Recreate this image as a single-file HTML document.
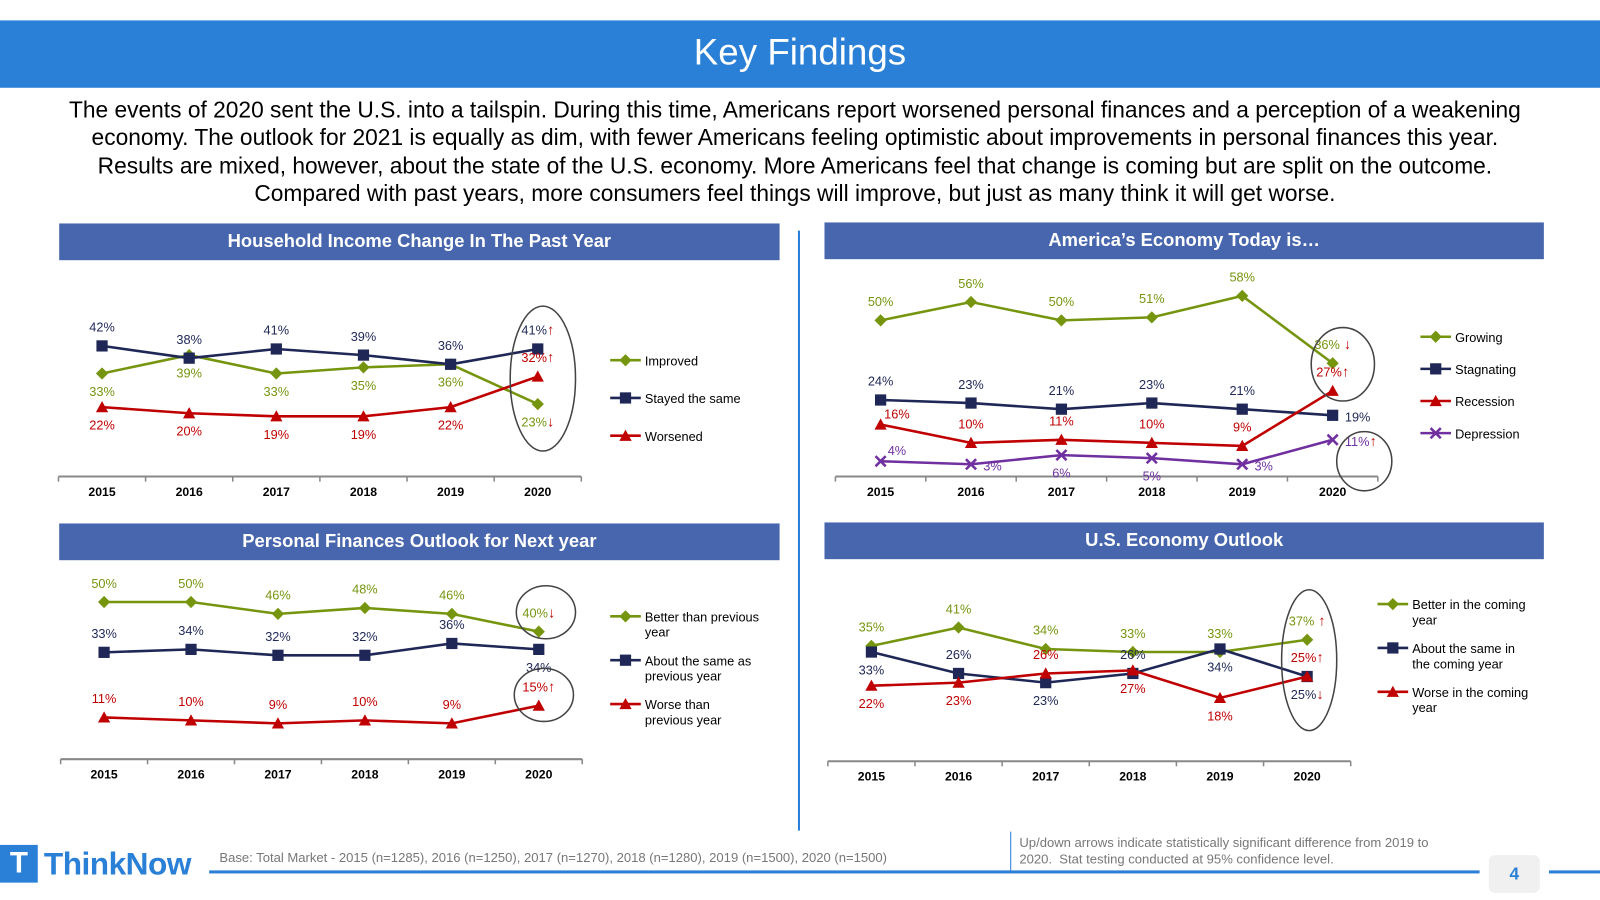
<!DOCTYPE html>
<html><head><meta charset="utf-8">
<style>
body{margin:0;width:1600px;height:900px;background:#fff;font-family:"Liberation Sans",sans-serif;position:relative;overflow:hidden}
#wrap{position:absolute;left:0;top:0;width:1568px;height:882px;transform:scale(1.0204);transform-origin:0 0}
.title{position:absolute;left:0;top:20px;width:1568px;height:66px;background:#2a7fd6;color:#fff;font-size:36px;text-align:center;line-height:62px}
.intro{position:absolute;left:57px;top:94px;width:1444px;text-align:center;font-size:22.3px;line-height:27.3px;color:#000}
.hdr{position:absolute;height:36px;background:#4766ad;color:#fff;font-weight:bold;font-size:18px;text-align:center;line-height:35px}
svg{position:absolute;left:0;top:0}
.foot{position:absolute;font-size:12.8px;color:#777}
</style></head><body>
<div id="wrap">
<div class="title">Key Findings</div>
<div class="intro">The events of 2020 sent the U.S. into a tailspin. During this time, Americans report worsened personal finances and a perception of a weakening economy. The outlook for 2021 is equally as dim, with fewer Americans feeling optimistic about improvements in personal finances this year. Results are mixed, however, about the state of the U.S. economy. More Americans feel that change is coming but are split on the outcome. Compared with past years, more consumers feel things will improve, but just as many think it will get worse.</div>
<div class="hdr" style="left:58px;top:219px;width:706px">Household Income Change In The Past Year</div>
<div class="hdr" style="left:808px;top:218px;width:705px">America’s Economy Today is…</div>
<div class="hdr" style="left:58px;top:513px;width:706px">Personal Finances Outlook for Next year</div>
<div class="hdr" style="left:808px;top:512px;width:705px">U.S. Economy Outlook</div>
<div style="position:absolute;left:782px;top:226px;width:2px;height:588px;background:#2a7fd6"></div>
<div style="position:absolute;left:990px;top:815px;width:1px;height:40px;background:#2a7fd6"></div>
<div style="position:absolute;left:205px;top:853px;width:1245px;height:3px;background:#2a7fd6"></div>
<div style="position:absolute;left:1518px;top:853px;width:50px;height:3px;background:#2a7fd6"></div>
<div style="position:absolute;left:1459px;top:838px;width:50px;height:37px;background:#f0f0f0;border-radius:6px;color:#2a7fd6;font-size:17px;font-weight:bold;text-align:center;line-height:37px">4</div>
<div style="position:absolute;left:0;top:828px;width:37px;height:37px;background:#2a7fd6;color:#fff;font-weight:bold;font-size:29px;text-align:center;line-height:37px">T</div>
<div style="position:absolute;left:43px;top:828px;color:#2a7fd6;font-weight:bold;font-size:31px;line-height:37px;letter-spacing:-0.5px">ThinkNow</div>
<div class="foot" style="left:215px;top:833px">Base: Total Market - 2015 (n=1285), 2016 (n=1250), 2017 (n=1270), 2018 (n=1280), 2019 (n=1500), 2020 (n=1500)</div>
<div class="foot" style="left:999px;top:818px;width:425px;line-height:16px">Up/down arrows indicate statistically significant difference from 2019 to 2020.&nbsp; Stat testing conducted at 95% confidence level.</div>
<svg id="charts" width="1568" height="882"></svg>
</div>
<script>
const years=["2015","2016","2017","2018","2019","2020"];
// Chart 1: Household income change
const c1Improved=[33,39,33,35,36,23];
const c1Same=[42,38,41,39,36,41];
const c1Worse=[22,20,19,19,22,32];
// Chart 2: Economy today
const c2Growing=[50,56,50,51,58,36];
const c2Stagnating=[24,23,21,23,21,19];
const c2Recession=[16,10,11,10,9,27];
const c2Depression=[4,3,6,5,3,11];
// Chart 3: Personal finances outlook
const c3Better=[50,50,46,48,46,40];
const c3Same=[33,34,32,32,36,34];
const c3Worse=[11,10,9,10,9,15];
// Chart 4: US economy outlook
const c4Better=[35,41,34,33,33,37];
const c4Same=[33,26,23,26,34,25];
const c4Worse=[22,23,26,27,18,25];

const GREEN="#76950f",NAVY="#1f2757",RED="#c00000",PURPLE="#7030a0";
const NS="http://www.w3.org/2000/svg";
const svg=document.getElementById('charts');
function mk(tag,attrs,parent){const e=document.createElementNS(NS,tag);for(const k in attrs)e.setAttribute(k,attrs[k]);(parent||svg).appendChild(e);return e;}
function marker(g,type,x,y,c){
  let m;
  if(type==='d')m=mk('polygon',{points:`${x},${y-6} ${x+6},${y} ${x},${y+6} ${x-6},${y}`,fill:c},g);
  else if(type==='s')m=mk('rect',{x:x-5.5,y:y-5.5,width:11,height:11,fill:c},g);
  else if(type==='t')m=mk('polygon',{points:`${x},${y-6} ${x+6},${y+5} ${x-6},${y+5}`,fill:c},g);
  else {m=mk('path',{d:`M${x-5},${y-5}L${x+5},${y+5}M${x+5},${y-5}L${x-5},${y+5}`,stroke:c,'stroke-width':2.5},g);}
  
  
}
function chart(cfg){
  const g=mk('g',{});
  
  
  const xs=i=>cfg.x0+i*cfg.step;
  const ys=v=>cfg.yZero-v*cfg.k;
  const ax=mk('line',{x1:cfg.x0-cfg.step/2,x2:xs(5)+cfg.step/2,y1:cfg.axisY,y2:cfg.axisY,stroke:'#888','stroke-width':2},g);
  
  
  for(let i=0;i<=6;i++){const tx=cfg.x0-cfg.step/2+i*cfg.step;mk('line',{x1:tx,x2:tx,y1:cfg.axisY,y2:cfg.axisY+5,stroke:'#888','stroke-width':1.5},g);}
  years.forEach((y,i)=>{const t=mk('text',{x:xs(i),y:cfg.axisY+19,'text-anchor':'middle','font-size':12,'font-weight':'bold',fill:'#000'},g);t.textContent=y;
    
    });
  cfg.series.forEach((s,si)=>{
    const pts=s.data.map((v,i)=>xs(i)+','+ys(v)).join(' ');
    const pl=mk('polyline',{points:pts,fill:'none',stroke:s.c,'stroke-width':2.5},g);
    
    
    s.data.forEach((v,i)=>{
      marker(g,s.m,xs(i),ys(v),s.c);
      const p=s.pos[i];let dx=0,dy=-14,anc='middle';
      if(p==='b')dy=22;
      if(p==='r'){dx=12;dy=6;anc='start';}
      if(p==='ar'){dx=16;dy=-6;}
      const t=mk('text',{x:xs(i)+dx,y:ys(v)+dy,'text-anchor':anc,'font-size':12.5,fill:s.c},g);
      t.textContent=v+'%';
      
      
      if(i===5&&s.arrow){const a=mk('tspan',{fill:RED,'font-weight':'bold','font-size':14},t);a.textContent=s.arrow;}
    });
    const ly=cfg.legY+si*cfg.legGap;
    const ll=mk('line',{x1:cfg.legX,x2:cfg.legX+30,y1:ly,y2:ly,stroke:s.c,'stroke-width':2.5},g);
    
    
    marker(g,s.m,cfg.legX+15,ly,s.c);
    s.label.forEach((ln,li)=>{const t=mk('text',{x:cfg.legX+34,y:ly+5+li*15,'font-size':12.5,fill:'#000'},g);t.textContent=ln;
      
      });
  });
  (cfg.ellipses||[]).forEach(e=>{const el=mk('ellipse',{cx:e[0],cy:e[1],rx:e[2],ry:e[3],fill:'none',stroke:'#444','stroke-width':1.5},g);
    
    });
}
chart({name:'household-income-chart',x0:100,step:85.4,yZero:465,k:3,axisY:467,legX:598,legY:353,legGap:37,
  series:[
   {data:c1Improved,c:GREEN,m:'d',label:['Improved'],pos:['b','b','b','b','b','b'],arrow:'↓'},
   {data:c1Same,c:NAVY,m:'s',label:['Stayed the same'],pos:['a','a','a','a','a','a'],arrow:'↑'},
   {data:c1Worse,c:RED,m:'t',label:['Worsened'],pos:['b','b','b','b','b','a'],arrow:'↑'}],
  ellipses:[[532,371,32,71]]});
chart({name:'economy-today-chart',x0:863,step:88.6,yZero:464,k:3,axisY:467,legX:1392,legY:330,legGap:31.5,
  series:[
   {data:c2Growing,c:GREEN,m:'d',label:['Growing'],pos:['a','a','a','a','a','a'],arrow:' ↓'},
   {data:c2Stagnating,c:NAVY,m:'s',label:['Stagnating'],pos:['a','a','a','a','a','r']},
   {data:c2Recession,c:RED,m:'t',label:['Recession'],pos:['ar','a','a','a','a','a'],arrow:'↑'},
   {data:c2Depression,c:PURPLE,m:'x',label:['Depression'],pos:['ar','r','b','b','r','r'],arrow:'↑'}],
  ellipses:[[1316,357,31,36],[1337,452,27,29]]});
chart({name:'personal-outlook-chart',x0:102,step:85.2,yZero:735,k:2.9,axisY:744,legX:598,legY:604,legGap:43,
  series:[
   {data:c3Better,c:GREEN,m:'d',label:['Better than previous','year'],pos:['a','a','a','a','a','a'],arrow:'↓'},
   {data:c3Same,c:NAVY,m:'s',label:['About the same as','previous year'],pos:['a','a','a','a','a','b']},
   {data:c3Worse,c:RED,m:'t',label:['Worse than','previous year'],pos:['a','a','a','a','a','a'],arrow:'↑'}],
  ellipses:[[535,600,29,26],[533,681,29,26]]});
chart({name:'economy-outlook-chart',x0:854,step:85.4,yZero:738,k:3,axisY:746,legX:1350,legY:592,legGap:43,
  series:[
   {data:c4Better,c:GREEN,m:'d',label:['Better in the coming','year'],pos:['a','a','a','a','a','a'],arrow:' ↑'},
   {data:c4Same,c:NAVY,m:'s',label:['About the same in','the coming year'],pos:['b','a','b','a','b','b'],arrow:'↓'},
   {data:c4Worse,c:RED,m:'t',label:['Worse in the coming','year'],pos:['b','b','a','b','b','a'],arrow:'↑'}],
  ellipses:[[1283,647,27,69]]});
</script>
</body></html>
